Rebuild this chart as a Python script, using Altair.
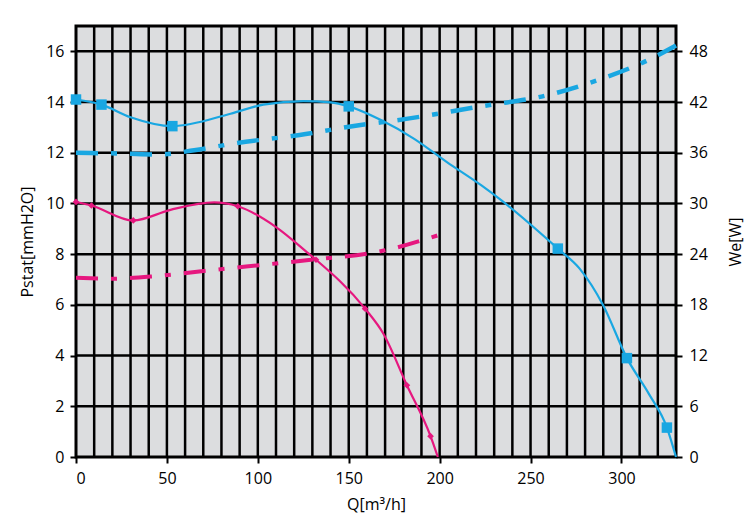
import altair as alt
import pandas as pd

# grid positions
q_grid = list(range(10, 330, 10))
p_grid = list(range(2, 17, 2))

# blue fan: static pressure curve
blue_p_q = [0, 14, 30, 53, 85, 103, 125, 140, 150, 168, 186, 204, 223, 234, 265, 277, 290, 303, 315, 325, 330]
blue_p = [14.1, 13.9, 13.4, 13.05, 13.54, 13.9, 14.04, 13.99, 13.83, 13.28, 12.55, 11.63, 10.71, 10.12, 8.22, 7.43, 5.98, 3.9, 2.5, 1.16, 0]
blue_mark_q = [0, 14, 53, 150, 265, 303, 325]
blue_mark_p = [14.1, 13.9, 13.05, 13.83, 8.22, 3.9, 1.16]
# blue fan: power
blue_w_q = [0, 26, 46, 65, 87, 123, 160, 168, 223, 259, 287, 315, 330]
blue_w = [36.0, 35.9, 35.8, 36.3, 37.1, 38.1, 39.4, 39.6, 41.5, 42.8, 44.6, 47.0, 48.7]

# pink fan: static pressure curve
pink_p_q = [0, 8.5, 31.5, 52, 76, 89, 110, 128, 132, 159, 169, 182, 195, 199]
pink_p = [10.06, 9.92, 9.33, 9.75, 10.04, 9.89, 9.07, 8.02, 7.78, 5.85, 4.87, 2.83, 0.82, 0]
pink_mark_q = [0, 8.5, 31.5, 89, 132, 159, 182, 195]
pink_mark_p = [10.06, 9.92, 9.33, 9.89, 7.78, 5.85, 2.83, 0.82]
# pink fan: power
pink_w_q = [0, 20, 44, 74, 101, 128, 171, 200]
pink_w = [21.2, 21.1, 21.4, 22.1, 22.7, 23.3, 24.5, 26.3]

x_ticks = [0, 50, 100, 150, 200, 250, 300]
p_ticks = [0, 2, 4, 6, 8, 10, 12, 14, 16]
w_ticks = [0, 6, 12, 18, 24, 30, 36, 42, 48]

BLUE = "#19a7e2"
PINK = "#e6177f"
FONT = "Open Sans"

xs = alt.Scale(domain=[0, 330], nice=False, zero=False)
ps = alt.Scale(domain=[0, 17], nice=False)
ws = alt.Scale(domain=[0, 51], nice=False)

x_axis = alt.Axis(values=x_ticks, title="Q[m³/h]", grid=False, domain=False,
                  labelPadding=7, titlePadding=10)
p_axis = alt.Axis(values=p_ticks, title="Pstat[mmH2O]", grid=False, domain=False,
                  labelPadding=6, titlePadding=10)
w_axis = alt.Axis(values=w_ticks, title="We[W]", orient="right", grid=False, domain=False,
                  labelPadding=7, titlePadding=36, titleAngle=270)

X = alt.X("q:Q", scale=xs, axis=x_axis)

vgrid = alt.Chart(pd.DataFrame({"q": q_grid})).mark_rule(
    color="black", strokeWidth=2.5).encode(x=X)
hgrid = alt.Chart(pd.DataFrame({"p": p_grid})).mark_rule(
    color="black", strokeWidth=2.5).encode(y=alt.Y("p:Q", scale=ps, axis=p_axis))


def p_line(q, p, color):
    return alt.Chart(pd.DataFrame({"q": q, "p": p})).mark_line(
        color=color, strokeWidth=2.2, interpolate="monotone").encode(
        x=X, y=alt.Y("p:Q", scale=ps, axis=p_axis))


def w_line(q, w, color, width):
    return alt.Chart(pd.DataFrame({"q": q, "w": w})).mark_line(
        color=color, strokeWidth=width, strokeDash=[22, 13, 6, 13],
        interpolate="monotone").encode(
        x=X, y=alt.Y("w:Q", scale=ws, axis=w_axis))


blue_pts = alt.Chart(pd.DataFrame({"q": blue_mark_q, "p": blue_mark_p})).mark_square(
    color=BLUE, opacity=1, size=110).encode(x=X, y=alt.Y("p:Q", scale=ps, axis=p_axis))
pink_pts = alt.Chart(pd.DataFrame({"q": pink_mark_q, "p": pink_mark_p})).mark_point(
    shape="diamond", filled=True, color=PINK, opacity=1, size=45).encode(
    x=X, y=alt.Y("p:Q", scale=ps, axis=p_axis))

left = alt.layer(vgrid, hgrid,
                 p_line(blue_p_q, blue_p, BLUE), p_line(pink_p_q, pink_p, PINK),
                 blue_pts, pink_pts)
right = alt.layer(w_line(blue_w_q, blue_w, BLUE, 4.5), w_line(pink_w_q, pink_w, PINK, 4))

chart = alt.layer(left, right).resolve_scale(y="independent").properties(
    width=600, height=431,
    autosize=alt.AutoSizeParams(type="none"),
    padding={"left": 68, "top": 18, "right": 71, "bottom": 66},
).configure_view(
    fill="#dcdddf", stroke="black", strokeWidth=3
).configure_axis(
    labelFont=FONT, labelFontSize=16, labelColor="black",
    titleFont=FONT, titleFontSize=16, titleFontWeight="normal", titleColor="black",
    tickColor="black", tickWidth=2, tickSize=6
)

chart.save("out.html", embed_options={"renderer": "svg", "actions": False})
